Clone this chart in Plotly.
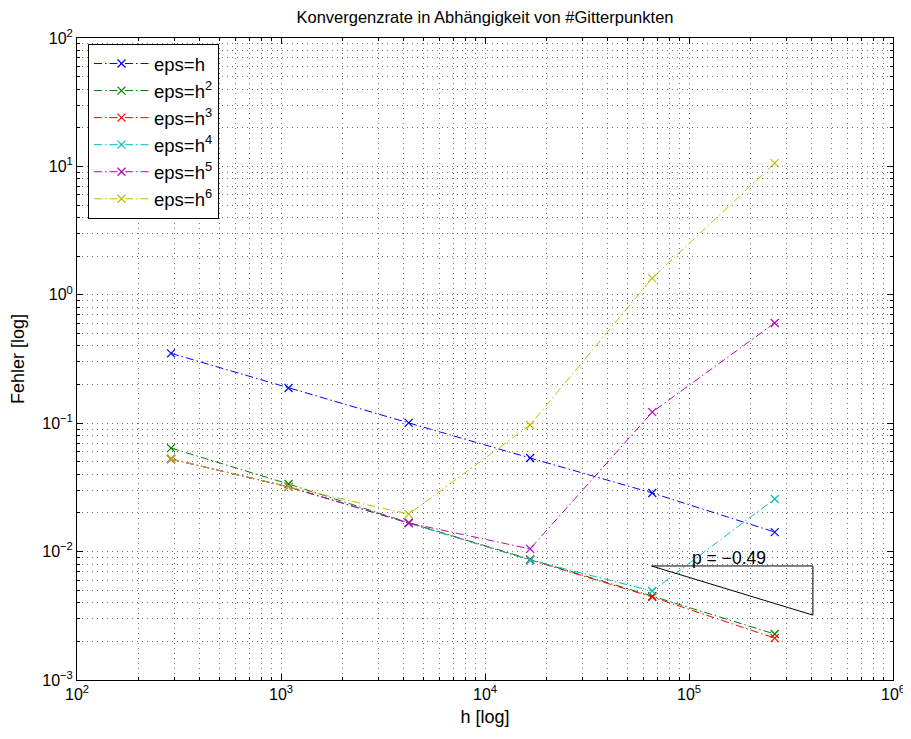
import math
import plotly.graph_objects as go

# Data
x_points = [289, 1089, 4225, 16641, 66049, 263169]
err_h1 = [0.35, 0.188, 0.1005, 0.0536, 0.0286, 0.0142]
err_h2 = [0.064, 0.0336, 0.0168, 0.0087, 0.0045, 0.00228]
err_h3 = [0.0526, 0.0319, 0.0167, 0.0086, 0.00443, 0.00212]
err_h4 = [0.0526, 0.0319, 0.0167, 0.0086, 0.00493, 0.0257]
err_h5 = [0.0526, 0.0319, 0.0167, 0.0105, 0.122, 0.603]
err_h6 = [0.0526, 0.0319, 0.0196, 0.0968, 1.35, 10.6]
series_names = ["eps=h", "eps=h<sup>2</sup>", "eps=h<sup>3</sup>",
                "eps=h<sup>4</sup>", "eps=h<sup>5</sup>", "eps=h<sup>6</sup>"]
series_colors = ["#0000ff", "#008000", "#ff0000", "#00bfbf", "#bf00bf", "#bfbf00"]

tri_x = [65536, 405000, 405000, 65536]
tri_y = [0.00773, 0.00773, 0.0032, 0.00773]
slope_label = "p = −0.49"
slope_pos = (100000, 0.00773)

x_decades = [1e2, 1e3, 1e4, 1e5, 1e6]
x_ticktext = ["10<sup>2</sup>", "10<sup>3</sup>", "10<sup>4</sup>", "10<sup>5</sup>", "10<sup>6</sup>"]
y_decades = [1e-3, 1e-2, 1e-1, 1e0, 1e1, 1e2]
y_ticktext = ["10<sup>−3</sup>", "10<sup>−2</sup>", "10<sup>−1</sup>", "10<sup>0</sup>", "10<sup>1</sup>", "10<sup>2</sup>"]

FONT = "Liberation Sans, Arial"

def minor_vals(decades):
    vals = []
    for d in decades[:-1]:
        for m in range(2, 10):
            vals.append(d * m)
    return vals

fig = go.Figure()
all_series = [err_h1, err_h2, err_h3, err_h4, err_h5, err_h6]
for i, (name, col, ys) in enumerate(zip(series_names, series_colors, all_series)):
    fig.add_trace(go.Scatter(
        x=x_points, y=ys, name=name, mode="lines+markers", legendgroup=f"g{i}",
        line=dict(color=col, width=1, dash="8px,3px,1.5px,3px"),
        marker=dict(symbol="x-thin", size=8, line=dict(color=col, width=1.2), color=col),
    ))

fig.add_trace(go.Scatter(x=tri_x, y=tri_y, mode="lines", showlegend=False,
                         line=dict(color="black", width=1), hoverinfo="skip"))
fig.add_annotation(x=math.log10(slope_pos[0]), y=math.log10(slope_pos[1]), xref="x", yref="y",
                   text=slope_label, showarrow=False, xanchor="left", yanchor="bottom",
                   xshift=1, yshift=-4,
                   font=dict(size=17.5, color="black", family=FONT))

GRID = "rgba(0,0,0,0.55)"
axis_common = dict(type="log", showline=True, linecolor="black", linewidth=1, mirror="ticks",
                   ticks="inside", ticklen=6, tickcolor="black", zeroline=False, automargin=False,
                   ticklabeloverflow="allow",
                   tickfont=dict(size=16, family=FONT, color="black"),
                   showgrid=True, gridcolor=GRID, griddash="1px,4px", gridwidth=1)

fig.update_xaxes(range=[2, 6], tickmode="array", tickvals=x_decades, ticktext=x_ticktext,
                 title=dict(text="h [log]", font=dict(size=18, family=FONT, color="black"), standoff=8),
                 minor=dict(tickmode="array", tickvals=minor_vals(x_decades), ticks="inside", ticklen=3,
                            tickcolor="black", showgrid=True, gridcolor=GRID, griddash="1px,4px", gridwidth=1),
                 **axis_common)
fig.update_yaxes(range=[-3, 2], tickmode="array", tickvals=y_decades, ticktext=y_ticktext,
                 title=dict(text="Fehler [log]", font=dict(size=18, family=FONT, color="black"), standoff=12),
                 minor=dict(tickmode="array", tickvals=minor_vals(y_decades), ticks="inside", ticklen=3,
                            tickcolor="black", showgrid=True, gridcolor=GRID, griddash="1px,4px", gridwidth=1),
                 **axis_common)

W, H = 903, 731
fig.update_layout(
    width=W, height=H,
    margin=dict(l=69, r=18, t=30, b=59, autoexpand=False),
    paper_bgcolor="white", plot_bgcolor="white",
    title=dict(text="Konvergenzrate in Abhängigkeit von #Gitterpunkten", x=(69 + 408) / W, xanchor="center",
               y=1 - 9/H, yanchor="middle",
               font=dict(size=16.5, family=FONT, color="black")),
    legend=dict(x=(88-77)/816, y=1 - 6/642, xanchor="left", yanchor="top", bgcolor="white",
                bordercolor="black", borderwidth=1,
                font=dict(size=18.5, family=FONT, color="black"),
                tracegroupgap=0, itemwidth=55),
    showlegend=True,
)

fig.write_html("out.html")
